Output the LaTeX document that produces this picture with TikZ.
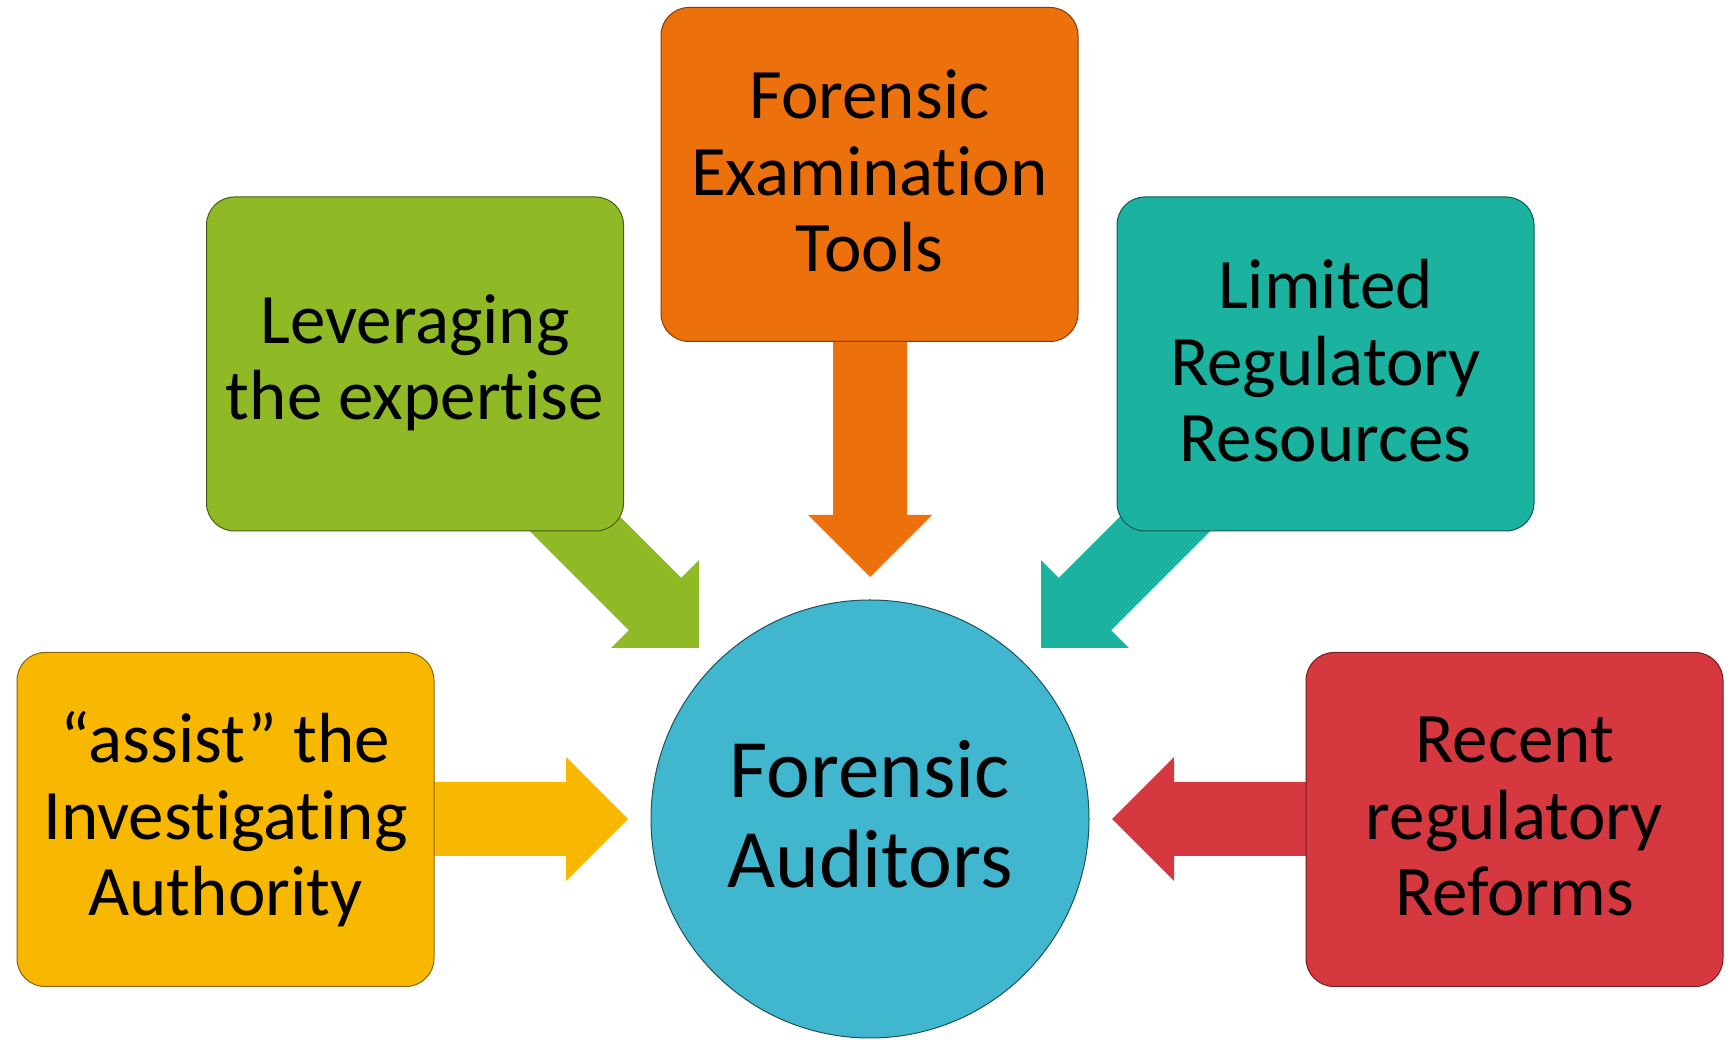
\documentclass[tikz,border=0pt]{standalone}
\usepackage{fontspec}
\setmainfont{Carlito}[RawFeature={-liga}]
\definecolor{cOrange}{HTML}{EC700C}
\definecolor{cGreen}{HTML}{8FB925}
\definecolor{cTeal}{HTML}{1BB39F}
\definecolor{cYellow}{HTML}{F8B800}
\definecolor{cRed}{HTML}{D5383E}
\definecolor{cBlue}{HTML}{41B7CF}
\tikzset{
  box/.style={rectangle, rounded corners=28pt, minimum width=417pt, minimum height=334pt, inner sep=0pt, line width=1pt},
  boxtext/.style={anchor=base, align=center, inner sep=0pt, font=\fontsize{71}{76.5}\selectfont},
  hub/.style={circle, minimum size=438pt, inner sep=0pt, fill=cBlue, draw=cBlue!45!black, line width=1pt},
  hubtext/.style={anchor=base, align=center, inner sep=0pt, font=\fontsize{83}{90}\selectfont}
}
\begin{document}
\begin{tikzpicture}[x=1pt,y=1pt]
\useasboundingbox (0,0) rectangle (1734,1040);
\fill[white] (0,0) rectangle (1734,1040);
% hub
\node[hub] (fa) at (870,221) {};
% arrows (behind boxes)
\begin{scope}[shift={(fa.center)}]
  \fill[cOrange, rotate=90] (242,0) -- (304,62) -- (304,37) -- (504,37) -- (504,-37) -- (304,-37) -- (304,-62) -- cycle;
  \fill[cGreen, rotate=135] (242,0) -- (304,62) -- (304,37) -- (504,37) -- (504,-37) -- (304,-37) -- (304,-62) -- cycle;
  \fill[cTeal, rotate=45] (242,0) -- (304,62) -- (304,37) -- (504,37) -- (504,-37) -- (304,-37) -- (304,-62) -- cycle;
  \fill[cYellow, rotate=180] (242,0) -- (304,62) -- (304,37) -- (504,37) -- (504,-37) -- (304,-37) -- (304,-62) -- cycle;
  \fill[cRed, rotate=0] (242,0) -- (304,62) -- (304,37) -- (504,37) -- (504,-37) -- (304,-37) -- (304,-62) -- cycle;
\end{scope}
\node[hubtext] (faT) at (870,152) {Forensic\\Auditors};
% boxes
\node[box, fill=cOrange, draw=cOrange!55!black] (tools) at (869.5,865.5) {};
\node[box, fill=cGreen, draw=cGreen!50!black] (lev) at (415,676) {};
\node[box, fill=cTeal, draw=cTeal!50!black] (lim) at (1325.5,676) {};
\node[box, fill=cYellow, draw=cYellow!55!black] (assist) at (225.5,220.5) {};
\node[box, fill=cRed, draw=cRed!55!black] (rec) at (1514.5,220.5) {};
% texts (anchor base = last line)
\node[boxtext] (toolsT) at (869.5,768) {Forensic\\Examination\\Tools};
\node[boxtext] (levT) at (415,620) {Leveraging\\the expertise};
\node[boxtext] (limT) at (1325.5,578) {Limited\\Regulatory\\Resources};
\node[boxtext] (assistT) at (225.5,124) {“assist” the\\Investigating\\Authority};
\node[boxtext] (recT) at (1514.5,124) {Recent\\regulatory\\Reforms};
\end{tikzpicture}
\end{document}
